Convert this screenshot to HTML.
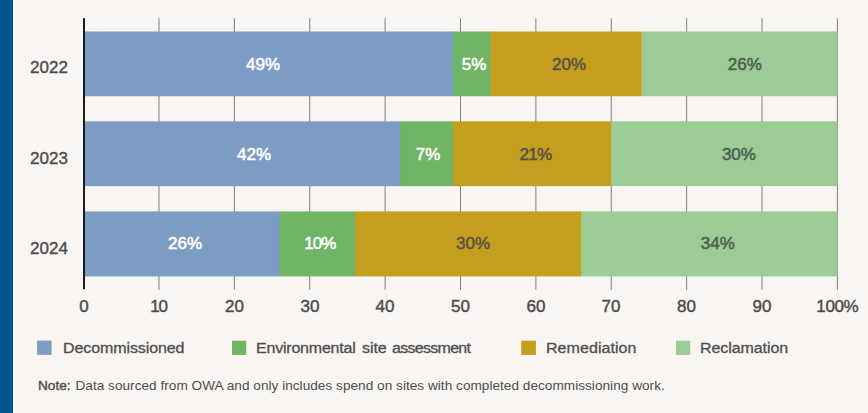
<!DOCTYPE html>
<html>
<head>
<meta charset="utf-8">
<style>
html,body{margin:0;padding:0;}
body{width:868px;height:413px;background:#f8f5f2;position:relative;overflow:hidden;font-family:"Liberation Sans",sans-serif;color:#4d4d4d;}
.abs{position:absolute;}
.yl{left:29.5px;width:39px;font-size:17px;line-height:20px;text-align:center;-webkit-text-stroke:0.4px #4d4d4d;}
.xl{top:296.5px;width:60px;margin-left:-30px;font-size:17px;line-height:20px;text-align:center;-webkit-text-stroke:0.45px #4d4d4d;}
.vl{font-size:17px;line-height:20px;width:60px;margin-left:-30px;text-align:center;}
.w{color:#fff;-webkit-text-stroke:0.5px #fff;}
.d{color:#5a5145;-webkit-text-stroke:0.5px #5a5145;}
.g{color:#4b5e50;-webkit-text-stroke:0.5px #4b5e50;}
.lg{top:337.8px;font-size:15.5px;line-height:20px;white-space:nowrap;-webkit-text-stroke:0.3px #4d4d4d;transform-origin:0 50%;transform:scaleX(1.033);}
.note{left:38px;top:376.6px;font-size:13.6px;line-height:18px;white-space:nowrap;letter-spacing:0.03px;}
.note b{margin-right:1px;font-weight:normal;-webkit-text-stroke:0.4px #4d4d4d;}
</style>
</head>
<body>

<svg class="abs" style="left:0;top:0" width="868" height="413" viewBox="0 0 868 413">
<rect x="0" y="0" width="13.2" height="413" fill="#00578f"/>
<rect x="13.2" y="0" width="1.7" height="413" fill="#fdfdfc"/>
<line x1="158.98" y1="18.3" x2="158.98" y2="289.7" stroke="#7f7f7f" stroke-width="1"/>
<line x1="234.36" y1="18.3" x2="234.36" y2="289.7" stroke="#7f7f7f" stroke-width="1"/>
<line x1="309.74" y1="18.3" x2="309.74" y2="289.7" stroke="#7f7f7f" stroke-width="1"/>
<line x1="385.12" y1="18.3" x2="385.12" y2="289.7" stroke="#7f7f7f" stroke-width="1"/>
<line x1="460.50" y1="18.3" x2="460.50" y2="289.7" stroke="#7f7f7f" stroke-width="1"/>
<line x1="535.88" y1="18.3" x2="535.88" y2="289.7" stroke="#7f7f7f" stroke-width="1"/>
<line x1="611.26" y1="18.3" x2="611.26" y2="289.7" stroke="#7f7f7f" stroke-width="1"/>
<line x1="686.64" y1="18.3" x2="686.64" y2="289.7" stroke="#7f7f7f" stroke-width="1"/>
<line x1="762.02" y1="18.3" x2="762.02" y2="289.7" stroke="#7f7f7f" stroke-width="1"/>
<line x1="837.40" y1="18.3" x2="837.40" y2="289.7" stroke="#7f7f7f" stroke-width="1"/>
<rect x="84" y="32" width="753.60" height="64" fill="#9ccc96"/>
<rect x="84" y="32" width="557.41" height="64" fill="#c49e1f"/>
<rect x="84" y="32" width="406.65" height="64" fill="#70b466"/>
<rect x="84" y="32" width="368.96" height="64" fill="#7d9cc3"/>
<g opacity="0.50">
<rect x="84" y="31" width="753.60" height="1" fill="#9ccc96"/>
<rect x="84" y="31" width="557.41" height="1" fill="#c49e1f"/>
<rect x="84" y="31" width="406.65" height="1" fill="#70b466"/>
<rect x="84" y="31" width="368.96" height="1" fill="#7d9cc3"/>
</g>
<g opacity="0.20">
<rect x="84" y="96" width="753.60" height="1" fill="#9ccc96"/>
<rect x="84" y="96" width="557.41" height="1" fill="#c49e1f"/>
<rect x="84" y="96" width="406.65" height="1" fill="#70b466"/>
<rect x="84" y="96" width="368.96" height="1" fill="#7d9cc3"/>
</g>
<rect x="84" y="122" width="753.60" height="64" fill="#9ccc96"/>
<rect x="84" y="122" width="527.26" height="64" fill="#c49e1f"/>
<rect x="84" y="122" width="368.96" height="64" fill="#70b466"/>
<rect x="84" y="122" width="316.20" height="64" fill="#7d9cc3"/>
<g opacity="0.70">
<rect x="84" y="121" width="753.60" height="1" fill="#9ccc96"/>
<rect x="84" y="121" width="527.26" height="1" fill="#c49e1f"/>
<rect x="84" y="121" width="368.96" height="1" fill="#70b466"/>
<rect x="84" y="121" width="316.20" height="1" fill="#7d9cc3"/>
</g>
<g opacity="0.10">
<rect x="84" y="186" width="753.60" height="1" fill="#9ccc96"/>
<rect x="84" y="186" width="527.26" height="1" fill="#c49e1f"/>
<rect x="84" y="186" width="368.96" height="1" fill="#70b466"/>
<rect x="84" y="186" width="316.20" height="1" fill="#7d9cc3"/>
</g>
<rect x="84" y="212" width="753.60" height="64" fill="#9ccc96"/>
<rect x="84" y="212" width="497.11" height="64" fill="#c49e1f"/>
<rect x="84" y="212" width="270.97" height="64" fill="#70b466"/>
<rect x="84" y="212" width="195.59" height="64" fill="#7d9cc3"/>
<g opacity="0.60">
<rect x="84" y="211" width="753.60" height="1" fill="#9ccc96"/>
<rect x="84" y="211" width="497.11" height="1" fill="#c49e1f"/>
<rect x="84" y="211" width="270.97" height="1" fill="#70b466"/>
<rect x="84" y="211" width="195.59" height="1" fill="#7d9cc3"/>
</g>
<g opacity="0.40">
<rect x="84" y="276" width="753.60" height="1" fill="#9ccc96"/>
<rect x="84" y="276" width="497.11" height="1" fill="#c49e1f"/>
<rect x="84" y="276" width="270.97" height="1" fill="#70b466"/>
<rect x="84" y="276" width="195.59" height="1" fill="#7d9cc3"/>
</g>
<rect x="83" y="18.2" width="2" height="271" fill="#1c1c1c"/>
<rect x="37.1" y="340.6" width="14.5" height="14.2" fill="#7d9cc3"/>
<rect x="232" y="340.7" width="14.2" height="14.2" fill="#70b466"/>
<rect x="521.2" y="340.7" width="14.7" height="14.2" fill="#c49e1f"/>
<rect x="676" y="340.7" width="14.2" height="14.2" fill="#9ccc96"/>
</svg>

<!-- year labels -->
<div class="abs yl" style="top:58px">2022</div>
<div class="abs yl" style="top:148.9px">2023</div>
<div class="abs yl" style="top:238.9px">2024</div>

<!-- value labels -->
<div class="abs vl w" style="left:263px;top:54.6px">49%</div>
<div class="abs vl w" style="left:474px;top:54.6px">5%</div>
<div class="abs vl d" style="left:569px;top:54.6px">20%</div>
<div class="abs vl g" style="left:744.8px;top:54.6px">26%</div>

<div class="abs vl w" style="left:254px;top:145px">42%</div>
<div class="abs vl w" style="left:428px;top:145px">7%</div>
<div class="abs vl d" style="left:535.4px;top:145px;letter-spacing:-0.8px">21%</div>
<div class="abs vl g" style="left:738.9px;top:145px">30%</div>

<div class="abs vl w" style="left:185px;top:234.4px">26%</div>
<div class="abs vl w" style="left:319.8px;top:234.4px;letter-spacing:-0.9px">10%</div>
<div class="abs vl d" style="left:473px;top:234.4px">30%</div>
<div class="abs vl g" style="left:717.8px;top:234.4px">34%</div>

<!-- x labels -->
<div class="abs xl" style="left:84px">0</div>
<div class="abs xl" style="left:158.5px;letter-spacing:-1.2px">10</div>
<div class="abs xl" style="left:234.5px">20</div>
<div class="abs xl" style="left:310px">30</div>
<div class="abs xl" style="left:385px">40</div>
<div class="abs xl" style="left:460.5px">50</div>
<div class="abs xl" style="left:536px">60</div>
<div class="abs xl" style="left:611px">70</div>
<div class="abs xl" style="left:686.5px">80</div>
<div class="abs xl" style="left:762px">90</div>
<div class="abs xl" style="left:837.3px;letter-spacing:-0.4px">100%</div>

<!-- legend -->
<div class="abs lg" style="left:62.90px;letter-spacing:-0.096px">Decommissioned</div>
<div class="abs lg" style="left:256.40px;letter-spacing:-0.207px">Environmental</div>
<div class="abs lg" style="left:362.40px;letter-spacing:-0.056px">site</div>
<div class="abs lg" style="left:391.80px;letter-spacing:-0.696px">assessment</div>
<div class="abs lg" style="left:545.60px;letter-spacing:0.051px">Remediation</div>
<div class="abs lg" style="left:699.60px;letter-spacing:-0.082px">Reclamation</div>

<div class="abs note"><b>Note:</b> Data sourced from OWA and only includes spend on sites with completed decommissioning work.</div>
</body>
</html>
